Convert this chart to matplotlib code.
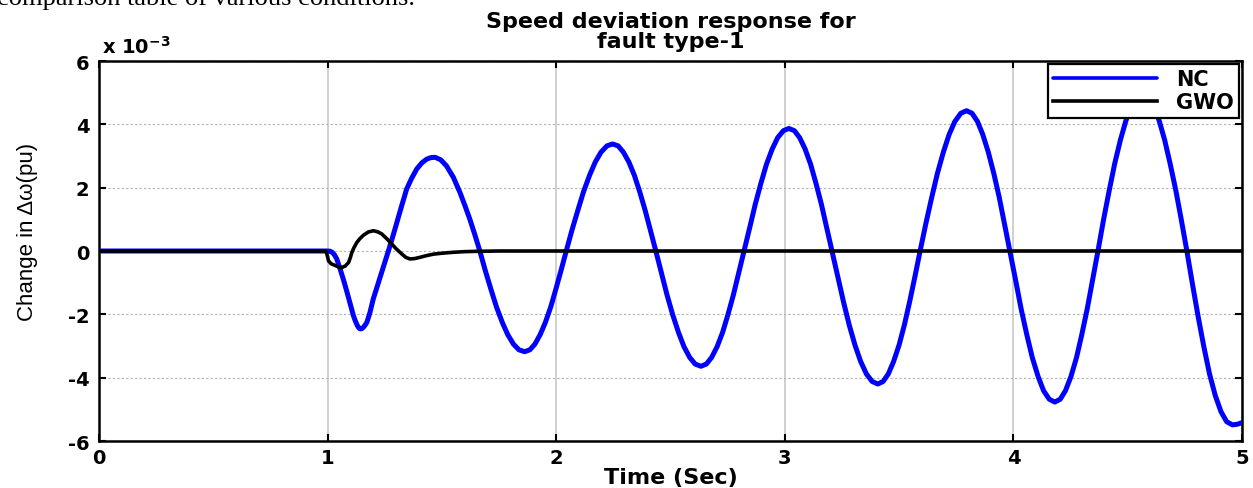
import matplotlib
matplotlib.use("Agg")
import matplotlib.pyplot as plt
from matplotlib import font_manager

# speed deviation, in units of 1e-3 pu
nc_time = [0.0, 1.0, 1.01, 1.02, 1.03, 1.04, 1.055, 1.07, 1.085, 1.10, 1.113, 1.122, 1.13, 1.137,
           1.143, 1.15, 1.158, 1.165, 1.172, 1.185, 1.20, 1.218, 1.237, 1.252, 1.266,
           1.285, 1.303, 1.325, 1.346, 1.368, 1.39, 1.412, 1.433, 1.452, 1.47,
           1.495, 1.52, 1.55, 1.579, 1.60, 1.622, 1.644, 1.666,
           1.690, 1.715, 1.739, 1.764, 1.788, 1.813, 1.837, 1.862,
           1.885, 1.907, 1.930, 1.953, 1.976, 1.998, 2.021, 2.044,
           2.069, 2.095, 2.120, 2.146, 2.171, 2.196, 2.222, 2.247,
           2.271, 2.294, 2.318, 2.342, 2.365, 2.389, 2.412, 2.436,
           2.461, 2.485, 2.510, 2.535, 2.559, 2.584, 2.608, 2.633,
           2.657, 2.680, 2.704, 2.728, 2.751, 2.775, 2.798, 2.822,
           2.847, 2.871, 2.896, 2.920, 2.945, 2.969, 2.994, 3.018,
           3.042, 3.065, 3.089, 3.113, 3.136, 3.160, 3.183, 3.207,
           3.232, 3.257, 3.282, 3.307, 3.332, 3.357, 3.382, 3.407,
           3.430, 3.453, 3.476, 3.500, 3.523, 3.546, 3.569, 3.592,
           3.617, 3.643, 3.668, 3.694, 3.719, 3.744, 3.770, 3.795,
           3.819, 3.843, 3.866, 3.890, 3.914, 3.938, 3.961, 3.985,
           4.010, 4.034, 4.059, 4.083, 4.108, 4.132, 4.157, 4.181,
           4.205, 4.228, 4.252, 4.276, 4.299, 4.323, 4.346, 4.370,
           4.394, 4.419, 4.443, 4.468, 4.492, 4.516, 4.541, 4.565,
           4.589, 4.614, 4.638, 4.662, 4.686, 4.711, 4.735, 4.759,
           4.784, 4.809, 4.834, 4.858, 4.883, 4.908, 4.933, 4.958, 4.98, 5.0]
nc_dw = [0.0, 0.0, -0.005, -0.04, -0.12, -0.25, -0.57, -0.92, -1.3, -1.7, -2.04, -2.22, -2.35, -2.43,
         -2.46, -2.45, -2.4, -2.33, -2.25, -1.95, -1.51, -1.1, -0.67, -0.33, 0.0,
         0.45, 0.9, 1.45, 1.96, 2.3, 2.59, 2.78, 2.9, 2.95, 2.96,
         2.88, 2.69, 2.33, 1.85, 1.45, 1.01, 0.52, 0.0,
         -0.62, -1.22, -1.77, -2.25, -2.64, -2.94, -3.12, -3.18,
         -3.12, -2.94, -2.64, -2.25, -1.77, -1.22, -0.62, 0.0,
         0.66, 1.29, 1.88, 2.39, 2.81, 3.12, 3.32, 3.38,
         3.32, 3.12, 2.81, 2.39, 1.88, 1.29, 0.66, 0.0,
         -0.71, -1.39, -2.02, -2.57, -3.02, -3.36, -3.57, -3.64,
         -3.57, -3.36, -3.02, -2.57, -2.02, -1.39, -0.71, 0.0,
         0.75, 1.48, 2.15, 2.74, 3.22, 3.58, 3.80, 3.87,
         3.80, 3.58, 3.22, 2.74, 2.15, 1.48, 0.75, 0.0,
         -0.82, -1.61, -2.34, -2.97, -3.49, -3.88, -4.12, -4.2,
         -4.12, -3.88, -3.49, -2.97, -2.34, -1.61, -0.82, 0.0,
         0.86, 1.70, 2.46, 3.13, 3.68, 4.09, 4.35, 4.43,
         4.35, 4.09, 3.68, 3.13, 2.46, 1.70, 0.86, 0.0,
         -0.93, -1.83, -2.65, -3.37, -3.96, -4.41, -4.68, -4.77,
         -4.68, -4.41, -3.96, -3.37, -2.65, -1.83, -0.93, 0.0,
         0.97, 1.90, 2.75, 3.50, 4.11, 4.57, 4.86, 4.95,
         4.86, 4.57, 4.11, 3.50, 2.75, 1.90, 0.97, 0.0,
         -1.07, -2.10, -3.05, -3.88, -4.56, -5.07, -5.39, -5.49, -5.47, -5.42]

gwo_time = [0.0, 0.99, 0.995, 1.0, 1.004, 1.015, 1.034, 1.05, 1.063, 1.078, 1.092, 1.10, 1.106,
            1.115, 1.128, 1.14, 1.157, 1.178, 1.20, 1.218, 1.237, 1.26, 1.281, 1.30, 1.324,
            1.342, 1.36, 1.38, 1.404, 1.43, 1.462, 1.5, 1.55, 1.6, 1.65, 1.75, 5.0]
gwo_dw = [0.0, 0.0, -0.05, -0.18, -0.31, -0.4, -0.46, -0.51, -0.52, -0.47, -0.36, -0.2, -0.05,
          0.1, 0.27, 0.38, 0.5, 0.6, 0.64, 0.61, 0.54, 0.38, 0.22, 0.07, -0.09,
          -0.2, -0.25, -0.24, -0.2, -0.15, -0.1, -0.07, -0.04, -0.02, -0.01, 0.0, 0.0]

x_ticks = [0, 1, 2, 3, 4, 5]
y_ticks = [-6, -4, -2, 0, 2, 4, 6]

names = {f.name for f in font_manager.fontManager.ttflist}
narrow = "Liberation Sans Narrow" if "Liberation Sans Narrow" in names else "Liberation Sans"

plt.rcParams["font.family"] = ["DejaVu Sans"]
plt.rcParams["font.weight"] = "bold"

fig = plt.figure(figsize=(12.53, 4.89), dpi=100)
ax = fig.add_axes([0.079, 0.0961, 0.9122, 0.7771])

ax.plot(nc_time, nc_dw, color="#0000ff", lw=3.6, label="NC", zorder=3,
        solid_joinstyle="round", solid_capstyle="round")
ax.plot(gwo_time, gwo_dw, color="black", lw=2.6, label="GWO", zorder=4,
        solid_joinstyle="round")

ax.set_xlim(0, 5)
ax.set_ylim(-6, 6)
ax.set_xticks(x_ticks)
ax.set_yticks(y_ticks)
ax.set_xticklabels([str(v) for v in x_ticks], fontsize=14, fontweight="bold")
ax.set_yticklabels([str(v) for v in y_ticks], fontsize=14, fontweight="bold")
ax.tick_params(axis="x", direction="in", length=5, width=1.5, top=True, pad=5)
ax.tick_params(axis="y", direction="in", length=5, width=1.5, right=True, pad=7)
for s in ax.spines.values():
    s.set_linewidth(1.8)

ax.xaxis.grid(True, color="#c8c8c8", lw=1.2, ls="-")
ax.yaxis.grid(True, color="#b0b0b0", lw=0.8, ls=(0, (2, 2)))
ax.set_axisbelow(True)

ax.set_xlabel("Time (Sec)", fontsize=16, fontweight="bold", labelpad=0)
ax.set_ylabel("Change in \u0394\u03c9(pu)", fontsize=16, fontweight="normal",
              family=[narrow, "DejaVu Sans"])
ax.yaxis.set_label_coords(-0.053, 0.553)
ax.set_title("Speed deviation response for\nfault type-1", fontsize=16, fontweight="bold",
             linespacing=1.0, pad=10)

ax.text(0.003, 1.01, r"x 10$^{\mathbf{-3}}$", transform=ax.transAxes, fontsize=14,
        fontweight="bold", ha="left", va="bottom")

fig.text(-0.002, 1 - 5 / 489, "comparison table of various conditions.", fontsize=19,
         family=["Liberation Serif", "DejaVu Serif"], fontweight="normal", va="baseline", ha="left")

leg = ax.legend(loc="upper right", handlelength=5.0, frameon=True, fancybox=False,
                borderaxespad=0.15, borderpad=0.25, labelspacing=0.15, handletextpad=0.9,
                prop={"weight": "bold", "size": 15, "family": "DejaVu Sans"})
leg.get_frame().set_edgecolor("black")
leg.get_frame().set_linewidth(1.6)
leg.get_frame().set_alpha(1)
for line in leg.get_lines():
    line.set_linewidth(2.6)

fig.savefig("out.png", dpi=100)
